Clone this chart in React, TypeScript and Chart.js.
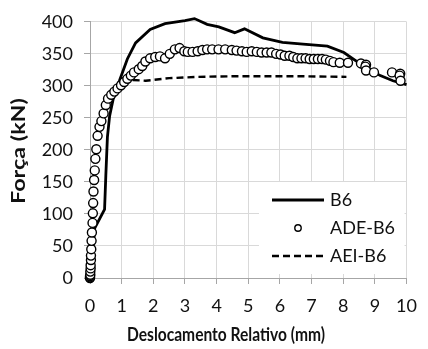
import React, { useEffect, useRef } from "react";
import { Chart, registerables } from "chart.js";

Chart.register(...registerables);

const xTicks = [0, 1, 2, 3, 4, 5, 6, 7, 8, 9, 10];
const yTicks = [0, 50, 100, 150, 200, 250, 300, 350, 400];

const b6Disp = [0, 0.12, 0.15, 0.46, 0.5, 0.55, 0.62, 0.77, 0.93, 1.18, 1.44, 1.9, 2.37, 3.0, 3.3, 3.7, 4.07, 4.57, 4.88, 5.46, 6.08, 6.73, 7.5, 8.02, 8.55, 9.17, 9.57, 10];
const b6Force = [0, 60, 78, 107, 160, 220, 253, 288, 308, 342, 367, 388, 397, 402, 405, 396, 392, 383, 389, 375, 368, 365, 362, 352, 334, 316, 308, 302];

const adeDisp = [0, 0, 0, 0.01, 0.01, 0.02, 0.02, 0.03, 0.03, 0.04, 0.05, 0.06, 0.08, 0.09, 0.1, 0.11, 0.13, 0.15, 0.17, 0.2, 0.24, 0.3, 0.36, 0.43, 0.5, 0.57, 0.67, 0.77, 0.87, 0.98, 1.08, 1.18, 1.29, 1.39, 1.54, 1.65, 1.75, 1.9, 2.06, 2.21, 2.37, 2.52, 2.68, 2.83, 2.98, 3.09, 3.24, 3.4, 3.55, 3.7, 3.86, 4.06, 4.27, 4.48, 4.63, 4.8, 4.95, 5.11, 5.27, 5.42, 5.58, 5.73, 5.88, 6.02, 6.15, 6.3, 6.42, 6.55, 6.68, 6.81, 6.94, 7.07, 7.2, 7.33, 7.45, 7.58, 7.69, 7.89, 8.15, 8.56, 8.72, 8.7, 8.72, 8.97, 9.54, 9.8, 9.78, 9.81];
const adeForce = [0, 1, 3, 5, 10, 15, 20, 28, 35, 45, 58, 71, 86, 101, 117, 135, 153, 168, 186, 201, 222, 236, 245, 257, 270, 280, 286, 291, 296, 301, 306, 311, 316, 321, 326, 331, 338, 343, 345, 346, 343, 350, 357, 359, 354, 353, 353, 354, 356, 357, 357, 357, 357, 356, 355, 354, 353, 354, 353, 352, 352, 352, 350, 349, 347, 347, 345, 343, 343, 343, 342, 342, 342, 342, 341, 339, 337, 336, 336, 335, 333, 330, 324, 321, 321, 319, 316, 308];

const aeiDisp = [1.0, 1.76, 2.5, 3.4, 4.5, 5.5, 6.7, 8.1];
const aeiForce = [310, 308, 312, 314, 315, 315, 315, 314];

const seriesNames = ["B6", "ADE-B6", "AEI-B6"];
const xTitle = "Deslocamento Relativo (mm)";
const yTitle = "Força (kN)";

const FONT = "Lato, 'Open Sans', sans-serif";
const TXT = "#111111";

const toPts = (xs: number[], ys: number[]) => xs.map((x, i) => ({ x, y: ys[i] }));

const legendPlugin = {
  id: "insideLegend",
  afterDraw(chart: any) {
    const ctx = chart.ctx;
    const area = chart.chartArea;
    ctx.save();
    const bx = 259, by = 182, bw = area.right - 2 - bx, bh = area.bottom - 4 - by;
    ctx.fillStyle = "#ffffff";
    ctx.fillRect(bx, by, bw, bh);
    const rows = [200, 228, 256];
    const sx1 = 272, sx2 = 324, tx = 330;
    ctx.font = "18px " + FONT;
    ctx.fillStyle = TXT;
    ctx.textBaseline = "middle";
    ctx.textAlign = "left";
    ctx.strokeStyle = "#000";
    ctx.lineWidth = 2.8;
    ctx.setLineDash([]);
    ctx.beginPath();
    ctx.moveTo(sx1, rows[0]);
    ctx.lineTo(sx2, rows[0]);
    ctx.stroke();
    ctx.fillText(seriesNames[0], tx, rows[0]);
    ctx.lineWidth = 1.4;
    ctx.beginPath();
    ctx.arc((sx1 + sx2) / 2, rows[1], 3.2, 0, Math.PI * 2);
    ctx.fillStyle = "#fff";
    ctx.fill();
    ctx.stroke();
    ctx.fillStyle = TXT;
    ctx.fillText(seriesNames[1], tx, rows[1]);
    ctx.lineWidth = 2.4;
    ctx.setLineDash([7, 4]);
    ctx.beginPath();
    ctx.moveTo(sx1, rows[2]);
    ctx.lineTo(sx2, rows[2]);
    ctx.stroke();
    ctx.setLineDash([]);
    ctx.fillText(seriesNames[2], tx, rows[2]);

    // axis titles
    ctx.fillStyle = TXT;
    ctx.textAlign = "center";
    ctx.textBaseline = "middle";
    ctx.font = "bold 19px " + FONT;
    ctx.fillText(xTitle, 226, 335, 198);
    ctx.translate(19, 151);
    ctx.rotate(-Math.PI / 2);
    ctx.font = "bold 19px " + FONT;
    const w = ctx.measureText(yTitle).width;
    ctx.scale(106 / w, 1);
    ctx.fillText(yTitle, 0, 0);
    ctx.restore();
  },
};

export default function App() {
  const ref = useRef<HTMLCanvasElement>(null);
  useEffect(() => {
    if (!ref.current) return;
    const chart = new Chart(ref.current, {
      type: "scatter",
      data: {
        datasets: [
          {
            label: seriesNames[0],
            data: toPts(b6Disp, b6Force),
            showLine: true,
            borderColor: "#000",
            borderWidth: 2.8,
            pointRadius: 0,
            tension: 0,
            order: 2,
            clip: false,
          },
          {
            label: seriesNames[1],
            data: toPts(adeDisp, adeForce),
            showLine: false,
            borderColor: "#000",
            backgroundColor: "#fff",
            pointRadius: 4.5,
            pointBorderWidth: 1.4,
            pointStyle: "circle",
            order: 1,
            clip: false,
          },
          {
            label: seriesNames[2],
            data: toPts(aeiDisp, aeiForce),
            showLine: true,
            borderColor: "#000",
            borderWidth: 2.4,
            borderDash: [7, 4],
            pointRadius: 0,
            tension: 0,
            order: 3,
            clip: false,
          },
        ],
      },
      options: {
        responsive: false,
        animation: false,
        layout: { padding: { left: 0, top: 17, right: 14, bottom: 0 } },
        plugins: { legend: { display: false }, tooltip: { enabled: false } },
        scales: {
          x: {
            type: "linear",
            min: 0,
            max: 10,
            afterBuildTicks: (s: any) => {
              s.ticks = xTicks.map((v) => ({ value: v }));
            },
            afterFit: (s: any) => {
              s.height = 71;
            },
            ticks: {
              font: { family: FONT, size: 18 },
              color: TXT,
              padding: 11,
              maxRotation: 0,
            },
            grid: { color: "#d9d9d9", lineWidth: 1, tickLength: 6, tickColor: "#a6a6a6" },
            border: { color: "#a6a6a6", width: 1 },
          },
          y: {
            type: "linear",
            min: 0,
            max: 400,
            afterBuildTicks: (s: any) => {
              s.ticks = yTicks.map((v) => ({ value: v }));
            },
            afterFit: (s: any) => {
              s.width = 90;
            },
            ticks: {
              font: { family: FONT, size: 18 },
              color: TXT,
              padding: 11,
            },
            grid: { color: "#d9d9d9", lineWidth: 1, tickLength: 6, tickColor: "#a6a6a6" },
            border: { color: "#a6a6a6", width: 1 },
          },
        },
      },
      plugins: [legendPlugin],
    });
    return () => chart.destroy();
  }, []);
  return (
    <div style={{ position: "fixed", left: 0, top: 0, width: 428, height: 349, background: "#fff" }}>
      <canvas ref={ref} width={428} height={349} style={{ width: 428, height: 349, display: "block" }} />
    </div>
  );
}
